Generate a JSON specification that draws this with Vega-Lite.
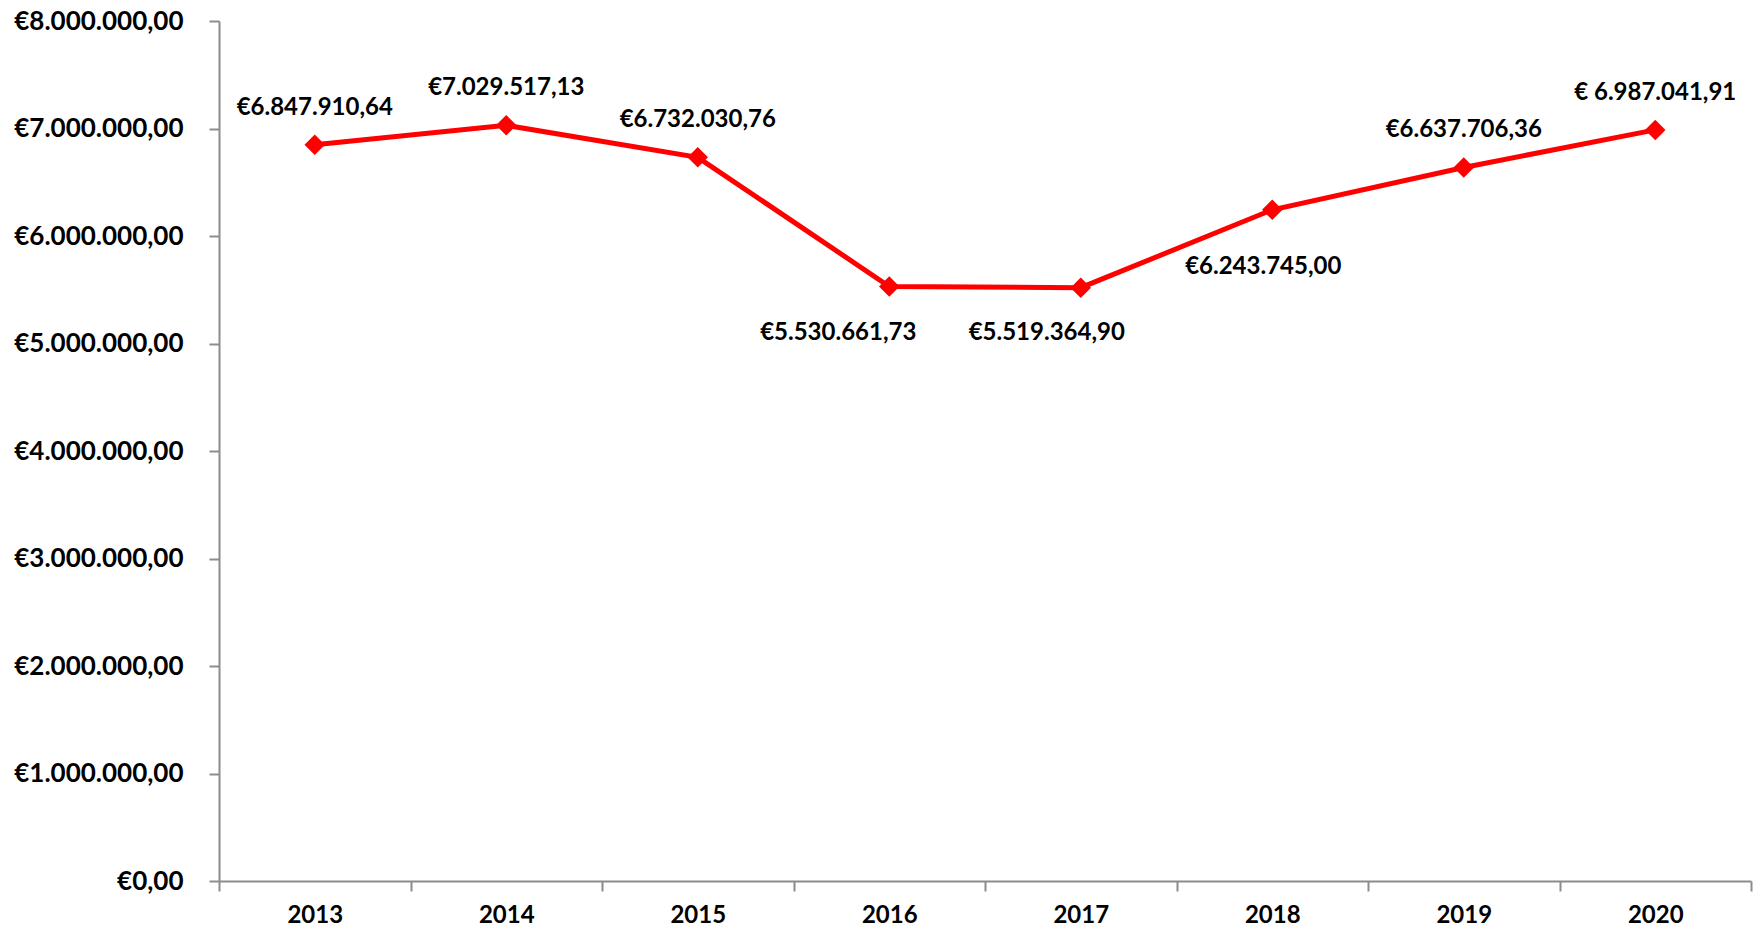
{
  "$schema": "https://vega.github.io/schema/vega-lite/v6.json",
  "width": 1532,
  "height": 860,
  "autosize": {"type": "none"},
  "padding": {"left": 219, "top": 21, "right": 13, "bottom": 49},
  "background": "white",
  "config": {
    "locale": {"number": {"decimal": ",", "thousands": ".", "grouping": [3], "currency": ["€", ""]}},
    "view": {"stroke": null},
    "font": "Lato"
  },
  "data": {
    "values": [
      {"year": "2013", "value": 6847910.64, "label": "€6.847.910,64"},
      {"year": "2014", "value": 7029517.13, "label": "€7.029.517,13"},
      {"year": "2015", "value": 6732030.76, "label": "€6.732.030,76"},
      {"year": "2016", "value": 5530661.73, "label": "€5.530.661,73"},
      {"year": "2017", "value": 5519364.90, "label": "€5.519.364,90"},
      {"year": "2018", "value": 6243745.00, "label": "€6.243.745,00"},
      {"year": "2019", "value": 6637706.36, "label": "€6.637.706,36"},
      {"year": "2020", "value": 6987041.91, "label": "€ 6.987.041,91"}
    ]
  },
  "encoding": {
    "x": {
      "field": "year", "type": "ordinal",
      "scale": {"paddingInner": 0, "paddingOuter": 0},
      "axis": {
        "title": null, "labelAngle": 0, "tickBand": "extent",
        "domainColor": "#8c8c8c", "domainWidth": 2, "tickColor": "#8c8c8c", "tickWidth": 2, "tickSize": 10,
        "labelFont": "Lato", "labelFontWeight": "bold", "labelFontSize": 24, "labelColor": "#000000",
        "labelPadding": 12, "labelAlign": "center", "grid": false
      }
    },
    "y": {
      "field": "value", "type": "quantitative",
      "scale": {"domain": [0, 8000000], "nice": false},
      "axis": {
        "title": null, "values": [0,1000000,2000000,3000000,4000000,5000000,6000000,7000000,8000000],
        "format": "$,.2f", "grid": false, "labelOverlap": false,
        "domainColor": "#8c8c8c", "domainWidth": 2, "tickColor": "#8c8c8c", "tickWidth": 2, "tickSize": 10,
        "labelFont": "Lato", "labelFontWeight": "bold", "labelFontSize": 26, "labelColor": "#000000",
        "labelPadding": 26
      }
    }
  },
  "layer": [
    {"mark": {"type": "line", "color": "#ff0000", "strokeWidth": 5}},
    {"mark": {"type": "point", "shape": "diamond", "filled": true, "color": "#ff0000", "size": 420, "opacity": 1}},
    {
      "transform": [{"filter": "indexof(['2013','2014','2015','2019','2020'], datum.year) >= 0"}],
      "mark": {"type": "text", "font": "Lato", "fontWeight": "bold", "fontSize": 24, "color": "#000000", "dy": -37, "baseline": "middle"},
      "encoding": {"text": {"field": "label"}}
    },
    {
      "transform": [{"filter": "datum.year == '2016'"}],
      "mark": {"type": "text", "font": "Lato", "fontWeight": "bold", "fontSize": 24, "color": "#000000", "dx": -51, "dy": 47, "baseline": "middle"},
      "encoding": {"text": {"field": "label"}}
    },
    {
      "transform": [{"filter": "datum.year == '2017'"}],
      "mark": {"type": "text", "font": "Lato", "fontWeight": "bold", "fontSize": 24, "color": "#000000", "dx": -34, "dy": 45, "baseline": "middle"},
      "encoding": {"text": {"field": "label"}}
    },
    {
      "transform": [{"filter": "datum.year == '2018'"}],
      "mark": {"type": "text", "font": "Lato", "fontWeight": "bold", "fontSize": 24, "color": "#000000", "dx": -9, "dy": 57, "baseline": "middle"},
      "encoding": {"text": {"field": "label"}}
    }
  ]
}
